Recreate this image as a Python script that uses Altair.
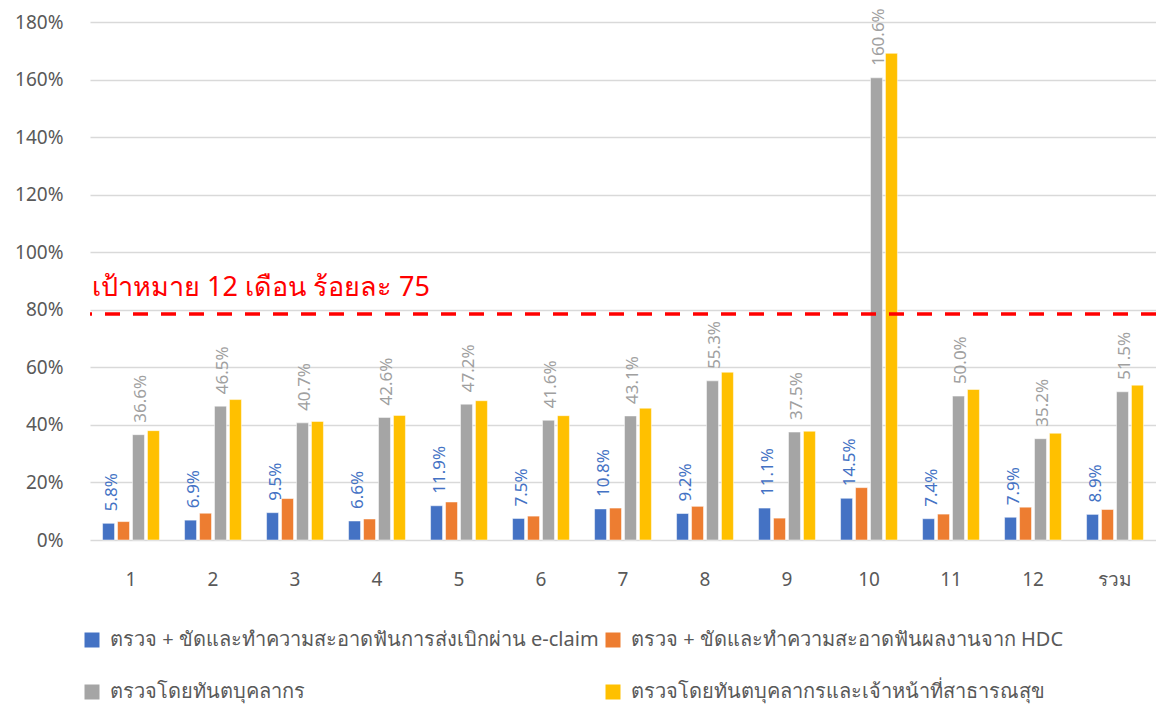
import altair as alt
import pandas as pd

categories = ["1", "2", "3", "4", "5", "6", "7", "8", "9", "10", "11", "12", "รวม"]
series_names = [
    "ตรวจ + ขัดและทำความสะอาดฟันการส่งเบิกผ่าน e-claim",
    "ตรวจ + ขัดและทำความสะอาดฟันผลงานจาก HDC",
    "ตรวจโดยทันตบุคลากร",
    "ตรวจโดยทันตบุคลากรและเจ้าหน้าที่สาธารณสุข",
]
series_colors = ["#4472C4", "#ED7D31", "#A5A5A5", "#FFC000"]

eclaim = [5.8, 6.9, 9.5, 6.6, 11.9, 7.5, 10.8, 9.2, 11.1, 14.5, 7.4, 7.9, 8.9]
hdc = [6.4, 9.3, 14.4, 7.3, 13.2, 8.3, 11.1, 11.7, 7.6, 18.2, 9.0, 11.4, 10.6]
dental = [36.6, 46.5, 40.7, 42.6, 47.2, 41.6, 43.1, 55.3, 37.5, 160.6, 50.0, 35.2, 51.5]
dental_health = [38.0, 48.8, 41.2, 43.3, 48.4, 43.2, 45.8, 58.3, 37.8, 169.1, 52.3, 37.1, 53.8]
labelled_series = [0, 2]

target_value = 78.5
target_text = "เป้าหมาย 12 เดือน ร้อยละ 75"
y_ticks = [0, 20, 40, 60, 80, 100, 120, 140, 160, 180]

rows = []
for si, vals in enumerate([eclaim, hdc, dental, dental_health]):
    for c, v in zip(categories, vals):
        rows.append({"cat": c, "series": series_names[si], "order": si, "v": v,
                     "lab": f"{v:.1f}%" if si in labelled_series else ""})
df = pd.DataFrame(rows)

FONT = "Noto Sans"
TXT = "#595959"

x = alt.X("cat:N", sort=categories, title=None,
          scale=alt.Scale(paddingInner=0.27, paddingOuter=0.135),
          axis=alt.Axis(labelAngle=0, labelFontSize=19, labelColor=TXT, labelFont=FONT,
                        ticks=False, domain=False, labelPadding=30))
y = alt.Y("v:Q", title=None,
          scale=alt.Scale(domain=[0, 180], nice=False),
          axis=alt.Axis(values=y_ticks, labelExpr="datum.value + '%'", labelFontSize=19,
                        labelColor=TXT, labelFont=FONT, ticks=False, domain=False,
                        labelPadding=27, gridColor="#D9D9D9", gridWidth=1.5))
xo = alt.XOffset("series:N", sort=series_names,
                 scale=alt.Scale(paddingInner=0.2, paddingOuter=0.1))

base = alt.Chart(df)

bars = base.mark_bar(stroke="white", strokeWidth=0.5).encode(
    x=x, y=y, xOffset=xo,
    color=alt.Color("series:N", sort=series_names,
                    scale=alt.Scale(domain=series_names, range=series_colors),
                    legend=alt.Legend(title=None, orient="none", legendX=-8, legendY=608,
                                      direction="horizontal",
                                      columns=2, symbolType="square", symbolSize=225,
                                      symbolStrokeWidth=0, labelFontSize=20,
                                      labelColor=TXT, labelFont=FONT, rowPadding=32,
                                      columnPadding=4, labelOffset=8, labelLimit=700)),
)

labels = base.transform_filter("datum.lab != ''").mark_text(
    angle=270, align="left", baseline="middle", dx=12, dy=3, fontSize=17, font=FONT
).encode(
    x=x, y=y, xOffset=xo, text="lab:N",
    color=alt.Color("series:N", sort=series_names,
                    scale=alt.Scale(domain=series_names, range=["#4472C4", "#ED7D31", "#A0A0A0", "#FFC000"]),
                    legend=None),
)

tdf = pd.DataFrame({"t": [target_value], "txt": [target_text]})
rule = alt.Chart(tdf).mark_rule(color="#FF0000", strokeWidth=3.5, strokeDash=[15, 13]).encode(
    y=alt.Y("t:Q", scale=alt.Scale(domain=[0, 180], nice=False)))
ttext = alt.Chart(tdf).mark_text(align="left", baseline="alphabetic", dy=-18, fontSize=27,
                                 color="#FF0000", font=FONT).encode(
    x=alt.value(2), y=alt.Y("t:Q", scale=alt.Scale(domain=[0, 180], nice=False)), text="txt:N")

chart = alt.layer(bars, labels, rule, ttext).resolve_scale(color="independent").properties(
    width=1066, height=518,
    autosize=alt.AutoSizeParams(type="none"),
    padding={"left": 82, "top": 14, "right": 0, "bottom": 165},
).configure_view(stroke=None)

chart.save("out.html", embed_options={"renderer": "svg", "actions": False})
